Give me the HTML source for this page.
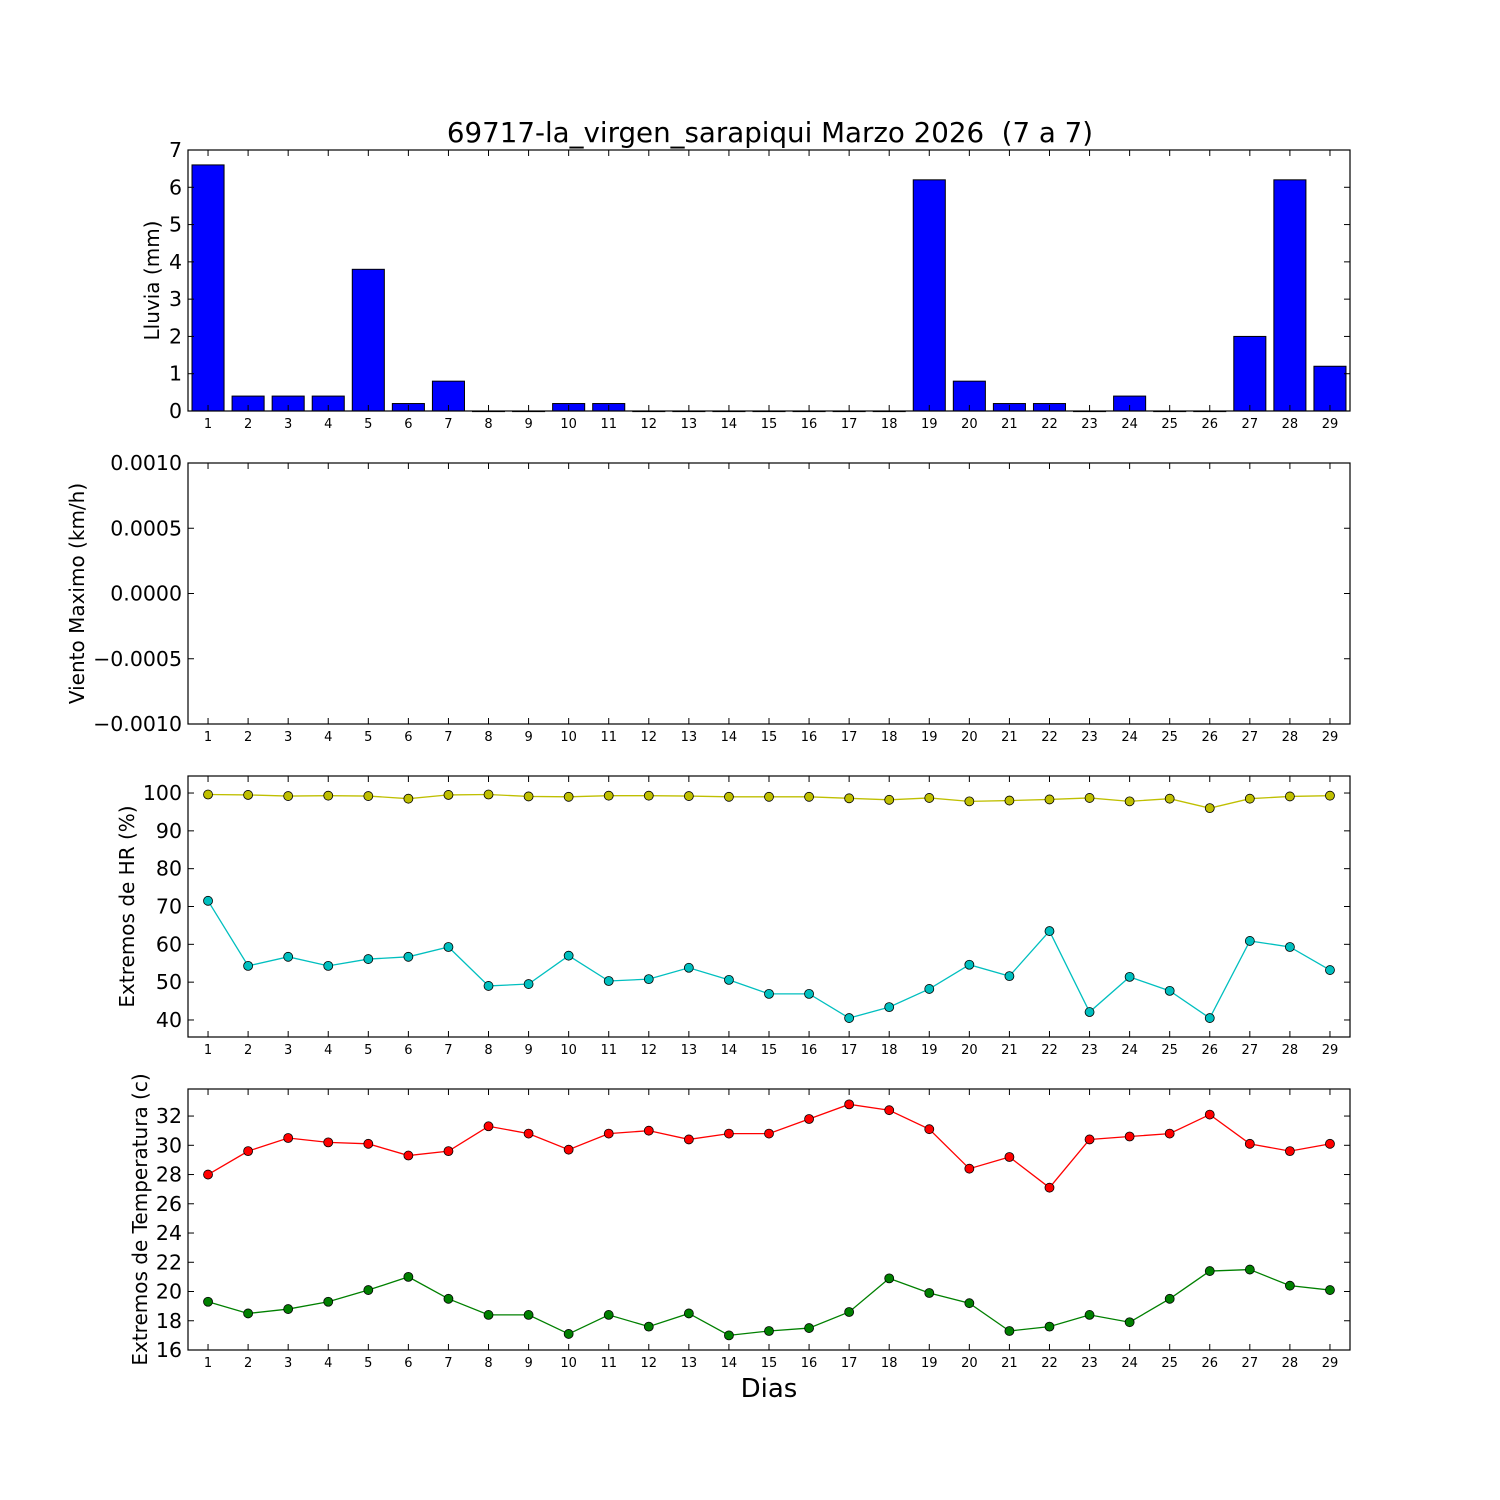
<!DOCTYPE html>
<html><head><meta charset="utf-8"><style>
html,body{margin:0;padding:0;background:#fff}
svg{display:block;font-family:"DejaVu Sans","Liberation Sans",sans-serif}
</style></head><body>
<svg id="chart" width="1500" height="1500" viewBox="0 0 1500 1500" xmlns="http://www.w3.org/2000/svg">
<rect width="1500" height="1500" fill="#fff"/>
<text x="770" y="142" font-size="27.7" text-anchor="middle" style="white-space:pre">69717-la_virgen_sarapiqui Marzo 2026  (7 a 7)</text>
<text x="769" y="1397" font-size="26" text-anchor="middle">Dias</text>
</svg>
<script>
const days = Array.from({length:29},(_,i)=>i+1);
const rain = [6.6,0.4,0.4,0.4,3.8,0.2,0.8,0,0,0.2,0.2,0,0,0,0,0,0,0,6.2,0.8,0.2,0.2,0,0.4,0,0,2,6.2,1.2];
const hrMax = [99.6,99.5,99.2,99.3,99.2,98.5,99.5,99.6,99.1,99,99.3,99.3,99.2,99,99,99,98.6,98.2,98.7,97.8,98,98.3,98.7,97.8,98.5,96,98.5,99.1,99.3];
const hrMin = [71.5,54.3,56.7,54.3,56.1,56.7,59.3,49,49.5,57,50.3,50.8,53.8,50.6,46.9,46.9,40.5,43.4,48.2,54.6,51.6,63.5,42.1,51.4,47.7,40.5,60.9,59.3,53.2];
const tMax = [28.0,29.6,30.5,30.2,30.1,29.3,29.6,31.3,30.8,29.7,30.8,31.0,30.4,30.8,30.8,31.8,32.8,32.4,31.1,28.4,29.2,27.1,30.4,30.6,30.8,32.1,30.1,29.6,30.1];
const tMin = [19.3,18.5,18.8,19.3,20.1,21.0,19.5,18.4,18.4,17.1,18.4,17.6,18.5,17.0,17.3,17.5,18.6,20.9,19.9,19.2,17.3,17.6,18.4,17.9,19.5,21.4,21.5,20.4,20.1];
const rainTicks = [0,1,2,3,4,5,6,7];
const windTicks = ["0.0010","0.0005","0.0000","\u22120.0005","\u22120.0010"];
const hrTicks = [40,50,60,70,80,90,100];
const tTicks = [16,18,20,22,24,26,28,30,32];

const NS="http://www.w3.org/2000/svg";
const svg=document.getElementById('chart');
const L=188,R=1350;
function X(d){return L+(d-0.5)*(R-L)/29;}
function el(tag,attrs,parent){const e=document.createElementNS(NS,tag);for(const k in attrs)e.setAttribute(k,attrs[k]);(parent||svg).appendChild(e);return e;}

function panel(name,top,bot,ymin,ymax,ticks,tickLabels,ylabel){
  const g=el('g',{});
  
  
  const Y=v=>bot-(v-ymin)/(ymax-ymin)*(bot-top);
  return {g,Y,finish(){
    const f=el('rect',{x:L,y:top,width:R-L,height:bot-top,fill:'none',stroke:'#000','stroke-width':1.2},g);
    
    
    days.forEach(d=>{
      const x=X(d);
      el('line',{x1:x,x2:x,y1:bot,y2:bot-6,stroke:'#000'},g);
      el('line',{x1:x,x2:x,y1:top,y2:top+6,stroke:'#000'},g);
      const t=el('text',{x:x,y:bot+17,'font-size':13,'text-anchor':'middle'},g);
      t.textContent=d;
      
      
    });
    ticks.forEach((v,i)=>{
      const y=Y(v);
      el('line',{x1:L,x2:L+6,y1:y,y2:y,stroke:'#000'},g);
      el('line',{x1:R,x2:R-6,y1:y,y2:y,stroke:'#000'},g);
      const t=el('text',{x:L-6,y:y+7,'font-size':20.5,'text-anchor':'end'},g);
      t.textContent=tickLabels[i];
      
      
    });
    const yl=el('text',{x:0,y:0,'font-size':20,'text-anchor':'middle',transform:`translate(${ylabel[1]},${(top+bot)/2}) rotate(-90)`},g);
    yl.textContent=ylabel[0];
    
    
  }};
}

const p1=panel('rain',150,411,0,7,rainTicks,rainTicks.map(String),['Lluvia (mm)',159]);
const bw=0.8*(R-L)/29;
rain.forEach((v,i)=>{
  const y=p1.Y(v);
  const b=el('rect',{x:X(days[i])-bw/2,y:y,width:bw,height:Math.max(411-y,0.6),fill:'#0000ff',stroke:'#000','stroke-width':1},p1.g);
  
  
});
p1.finish();

const windVals=[0.001,0.0005,0,-0.0005,-0.001];
const p2=panel('wind',463,724,-0.001,0.001,windVals,windTicks,['Viento Maximo (km/h)',84]);
p2.finish();

function series(p,vals,color,name){
  const pts=vals.map((v,i)=>X(days[i])+','+p.Y(v)).join(' ');
  const pl=el('polyline',{points:pts,fill:'none',stroke:color,'stroke-width':1.3},p.g);
  
  
  vals.forEach((v,i)=>{
    const c=el('circle',{cx:X(days[i]),cy:p.Y(v),r:4.5,fill:color,stroke:'#000','stroke-width':0.8},p.g);
    
    
  });
}

const p3=panel('humidity',776,1037,35.5,104.5,hrTicks,hrTicks.map(String),['Extremos de HR (%)',134]);
series(p3,hrMax,'#bfbf00','hr-max');
series(p3,hrMin,'#00bfbf','hr-min');
p3.finish();

const p4=panel('temperature',1089,1350,16,33.85,tTicks,tTicks.map(String),['Extremos de Temperatura (c)',147]);
series(p4,tMax,'#ff0000','temp-max');
series(p4,tMin,'#008000','temp-min');
p4.finish();
</script>
</body></html>
